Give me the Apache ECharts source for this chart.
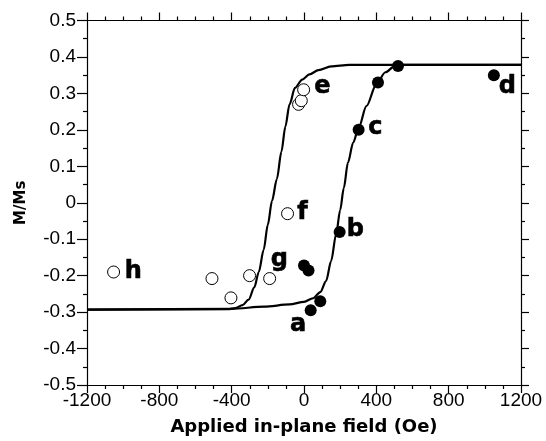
<!DOCTYPE html>
<html>
<head>
<meta charset="utf-8">
<script src="https://cdn.jsdelivr.net/npm/echarts@6/dist/echarts.min.js"></script>
<style>
html,body{margin:0;padding:0;background:#fff;}
#chart{width:546px;height:441px;}
</style>
</head>
<body>
<div id="chart"></div>
<script>
// Field (Oe) and M/Ms values
const ascendingBranch = [[-1200,-0.293],[-400,-0.291],[-220,-0.285],[-80,-0.279],[0,-0.272],[50,-0.262],[90,-0.245],[122,-0.215],[150,-0.16],[178,-0.085],[200,-0.02],[220,0.04],[243,0.11],[272,0.165],[302,0.205],[345,0.265],[400,0.325],[450,0.358],[500,0.374],[550,0.378],[1200,0.378]];
const descendingBranch = [[-1200,-0.293],[-420,-0.292],[-380,-0.289],[-340,-0.281],[-306,-0.266],[-275,-0.232],[-250,-0.19],[-223,-0.129],[-200,-0.06],[-177,0.005],[-150,0.065],[-125,0.14],[-103,0.209],[-80,0.27],[-50,0.315],[-10,0.338],[30,0.352],[80,0.364],[150,0.374],[250,0.378],[1200,0.378]];
const filledPoints = [[37,-0.295],[90,-0.270],[0,-0.172],[25,-0.186],[197,-0.080],[302,0.200],[409,0.330],[520,0.375],[1050,0.350]];
const openPoints = [[-1053,-0.190],[-509,-0.208],[-404,-0.261],[-301,-0.200],[-190,-0.208],[-91,-0.030],[-30,0.270],[-15,0.280],[-2,0.310]];
const letterNames = ['a','b','c','d','e','f','g','h'];
const letterPositions = [[-32,-0.334],[284,-0.074],[394,0.205],[1125,0.318],[101,0.318],[-9,-0.027],[-137,-0.156],[-944,-0.189]];
const xTickLabels = ['-1200','-800','-400','0','400','800','1200'];
const yTickLabels = ['-0.5','-0.4','-0.3','-0.2','-0.1','0','0.1','0.2','0.3','0.4','0.5'];

const FONT = 'Liberation Sans, Arial, Helvetica, sans-serif';
const BOLDFONT = 'DejaVu Sans, Liberation Sans, Arial, sans-serif';
const chart = echarts.init(document.getElementById('chart'), null, {renderer:'canvas'});
const baseAxisLine = {show:true, onZero:false, lineStyle:{color:'#000', width:1.2}};
const option = {
  animation:false,
  backgroundColor:'#fff',
  grid:{left:87, right:25, top:20.5, bottom:55.5, containLabel:false},
  xAxis:[{
    type:'value', min:-1200, max:1200, interval:400, position:'bottom',
    axisLine:baseAxisLine,
    axisTick:{show:true, inside:false, length:8, lineStyle:{color:'#000', width:1.2}},
    minorTick:{show:true, splitNumber:4, length:4, lineStyle:{color:'#000', width:1.2}},
    splitLine:{show:false},
    axisLabel:{margin:6, color:'#000', fontSize:19, fontFamily:FONT,
      formatter:(v)=>xTickLabels[Math.round((v+1200)/400)]},
    name:'Applied in-plane field (Oe)', nameLocation:'middle', nameGap:33,
    nameTextStyle:{color:'#000', fontSize:18, fontWeight:'bold', fontFamily:BOLDFONT}
  },{
    type:'value', min:-1200, max:1200, interval:400, position:'top',
    axisLine:baseAxisLine,
    axisTick:{show:true, inside:false, length:8, lineStyle:{color:'#000', width:1.2}},
    minorTick:{show:true, splitNumber:4, length:4, lineStyle:{color:'#000', width:1.2}},
    splitLine:{show:false}, axisLabel:{show:false}
  }],
  yAxis:[{
    type:'value', min:-0.5, max:0.5, interval:0.1, position:'left',
    axisLine:baseAxisLine,
    axisTick:{show:true, inside:false, length:10, lineStyle:{color:'#000', width:1.2}},
    minorTick:{show:true, splitNumber:2, length:4, lineStyle:{color:'#000', width:1.2}},
    splitLine:{show:false},
    axisLabel:{margin:11, color:'#000', fontSize:19, fontFamily:FONT,
      formatter:(v)=>yTickLabels[Math.round((v+0.5)*10)]},
    name:'M/Ms', nameLocation:'middle', nameGap:58, nameRotate:90,
    nameTextStyle:{color:'#000', fontSize:15, fontWeight:'bold', fontFamily:BOLDFONT}
  },{
    type:'value', min:-0.5, max:0.5, interval:0.1, position:'right',
    axisLine:baseAxisLine,
    axisTick:{show:true, inside:false, length:8, lineStyle:{color:'#000', width:1.2}},
    minorTick:{show:true, splitNumber:2, length:4, lineStyle:{color:'#000', width:1.2}},
    splitLine:{show:false}, axisLabel:{show:false}
  }],
  series:[
    {type:'line', data:ascendingBranch, showSymbol:false, smooth:0.3, smoothMonotone:'x',
     lineStyle:{color:'#000', width:2.2, opacity:1}, z:2, silent:true},
    {type:'line', data:descendingBranch, showSymbol:false, smooth:0.3, smoothMonotone:'x',
     lineStyle:{color:'#000', width:2.2, opacity:1}, z:2, silent:true},
    {type:'scatter', data:openPoints, symbol:'circle', symbolSize:12,
     itemStyle:{color:'#fff', borderColor:'#000', borderWidth:1, opacity:1}, z:3},
    {type:'scatter', data:filledPoints, symbol:'circle', symbolSize:12,
     itemStyle:{color:'#000', opacity:1}, z:4},
    {type:'scatter', data:letterPositions.map((p,i)=>({name:letterNames[i], value:p})),
     symbolSize:0, z:5, itemStyle:{opacity:1},
     label:{show:true, position:'inside', formatter:(p)=>p.name, color:'#000',
       fontSize:24, fontWeight:'bold', fontFamily:BOLDFONT,
       textBorderColor:'#000', textBorderWidth:0.6}}
  ]
};
chart.setOption(option);
</script>
</body>
</html>
